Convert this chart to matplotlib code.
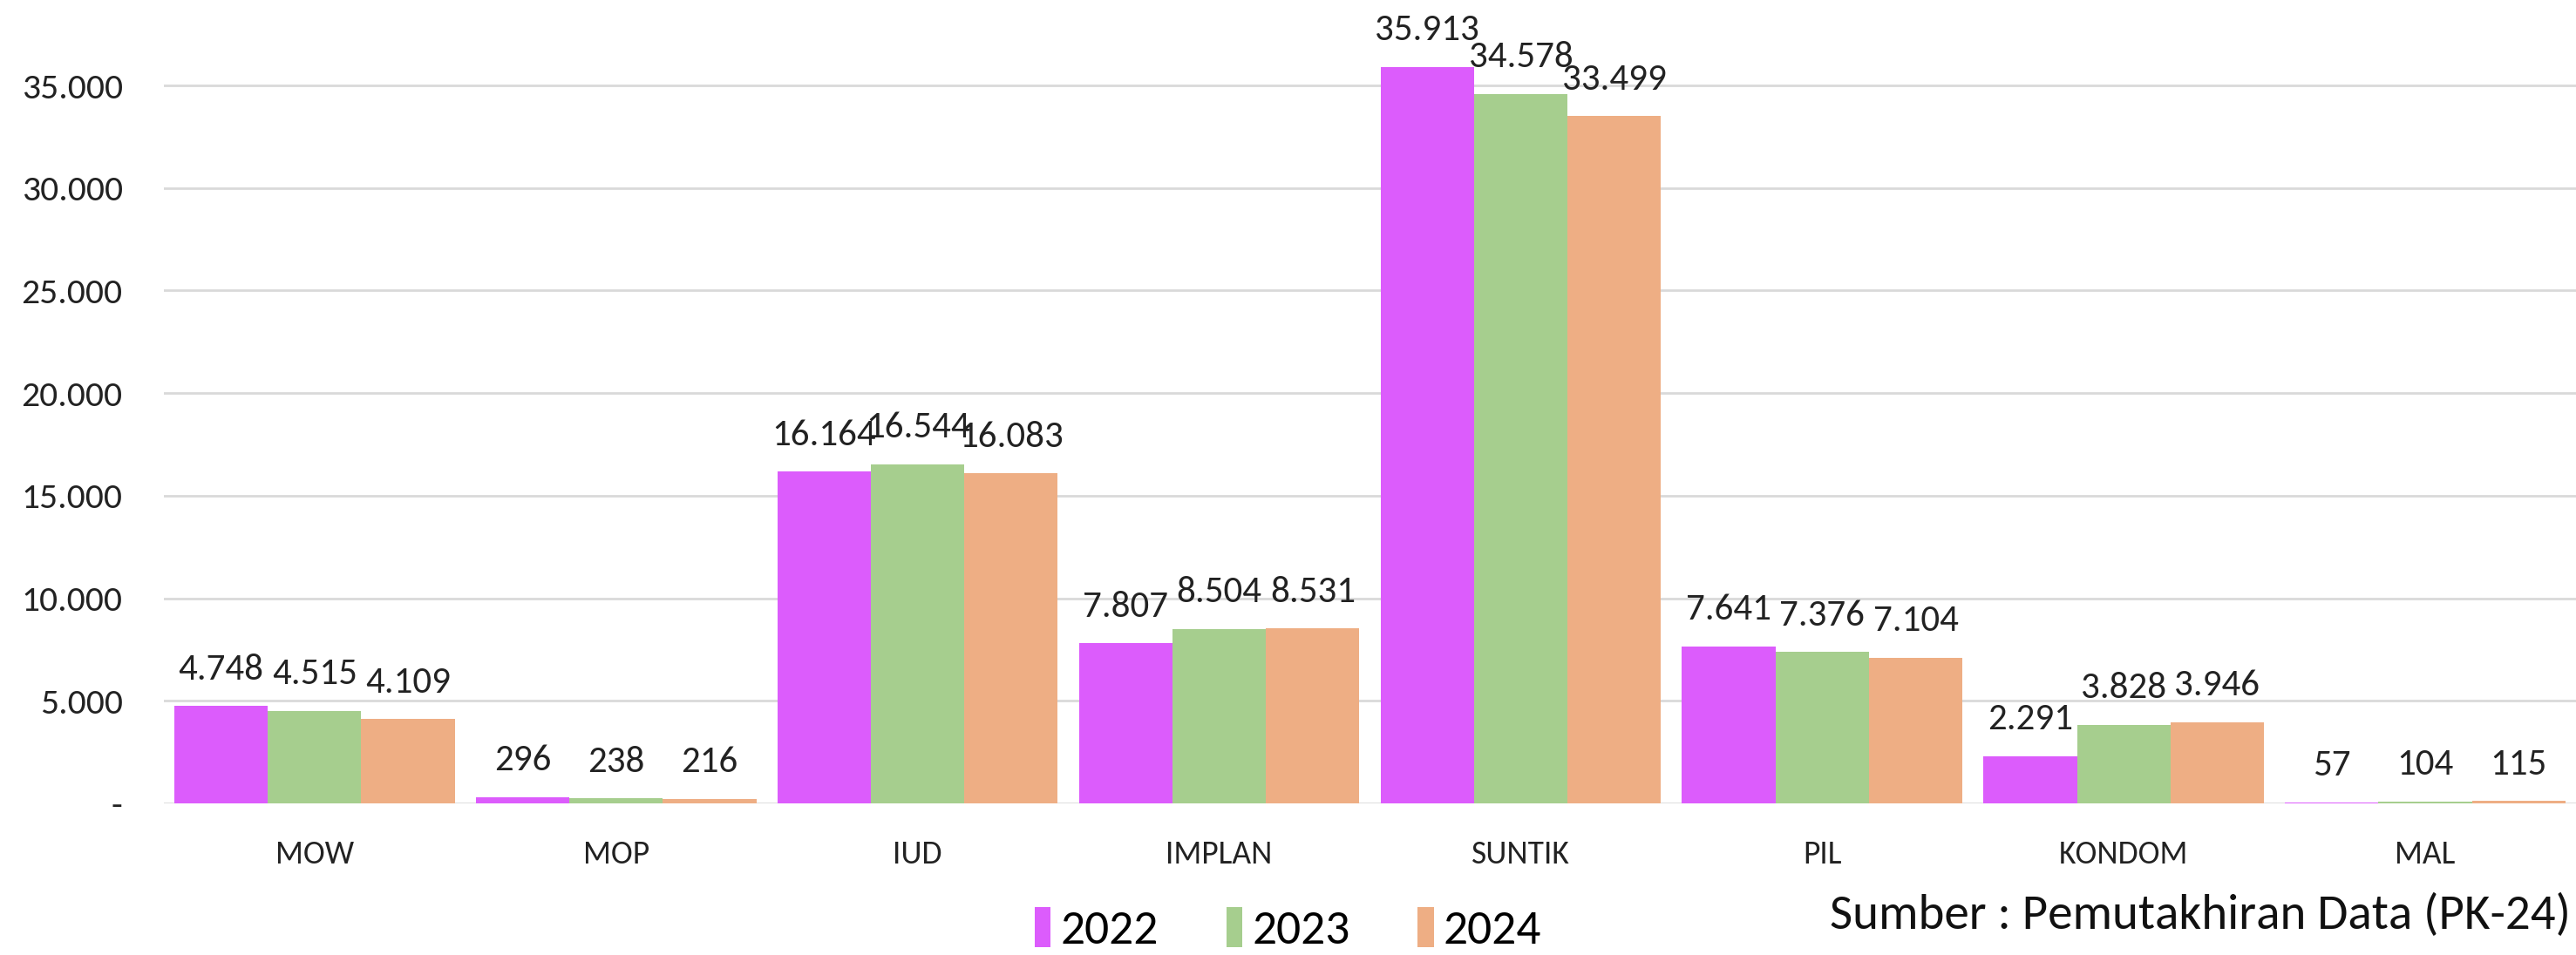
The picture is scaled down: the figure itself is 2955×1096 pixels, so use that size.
import matplotlib
matplotlib.use("Agg")
import matplotlib.pyplot as plt
import numpy as np
from matplotlib.patches import Patch

categories = ["MOW", "MOP", "IUD", "IMPLAN", "SUNTIK", "PIL", "KONDOM", "MAL"]
years = ["2022", "2023", "2024"]
v2022 = [4748, 296, 16164, 7807, 35913, 7641, 2291, 57]
v2023 = [4515, 238, 16544, 8504, 34578, 7376, 3828, 104]
v2024 = [4109, 216, 16083, 8531, 33499, 7104, 3946, 115]
colors = ["#DC5CFC", "#A6CE8E", "#EEAE84"]
yticks = [0, 5000, 10000, 15000, 20000, 25000, 30000, 35000]

plt.rcParams['font.family'] = ['Carlito', 'Fira Sans Condensed', 'DejaVu Sans']

def fmt(v):
    return "{:,}".format(v).replace(",", ".")

fig = plt.figure(figsize=(29.55, 10.96), dpi=100)
ax = fig.add_axes([0.0636, 0.1588, 0.9364, 0.8376])

x = np.arange(len(categories))
w = 0.31
series = [v2022, v2023, v2024]
for i, (vals, c) in enumerate(zip(series, colors)):
    pos = x + (i - 1) * w
    ax.bar(pos, vals, width=w, color=c, zorder=3, label=years[i])
    for p, v in zip(pos, vals):
        ax.annotate(fmt(v), (p, v), xytext=(0, 17), textcoords="offset points",
                    ha="center", va="bottom", fontsize=31, color="#222222")

ax.set_xlim(-0.5, len(categories) - 0.5)
ax.set_ylim(0, 39000)
ax.set_yticks(yticks)
ax.set_yticklabels(["-"] + [fmt(t) for t in yticks[1:]])
ax.set_xticks(x)
ax.set_xticklabels(categories)
ax.tick_params(axis="y", length=0, pad=34, labelsize=30, labelcolor="#222222")
ax.tick_params(axis="x", length=0, pad=30, labelsize=27, labelcolor="#222222")
ax.grid(axis="y", color="#D9D9D9", linewidth=2, zorder=4)
for s in ax.spines.values():
    s.set_visible(False)

handles = [Patch(facecolor=c, label=y) for c, y in zip(colors, years)]
fig.legend(handles=handles, loc="center", bbox_to_anchor=(0.5, 0.027), ncol=3,
           frameon=False, fontsize=40, handlelength=0.33, handleheight=0.9,
           handletextpad=0.2, columnspacing=1.4, borderpad=0.1)

fig.text(0.998, 0.042, "Sumber : Pemutakhiran Data (PK-24)", ha="right", va="center",
         fontsize=41, color="#111111")

fig.savefig("out.png", dpi=100)
